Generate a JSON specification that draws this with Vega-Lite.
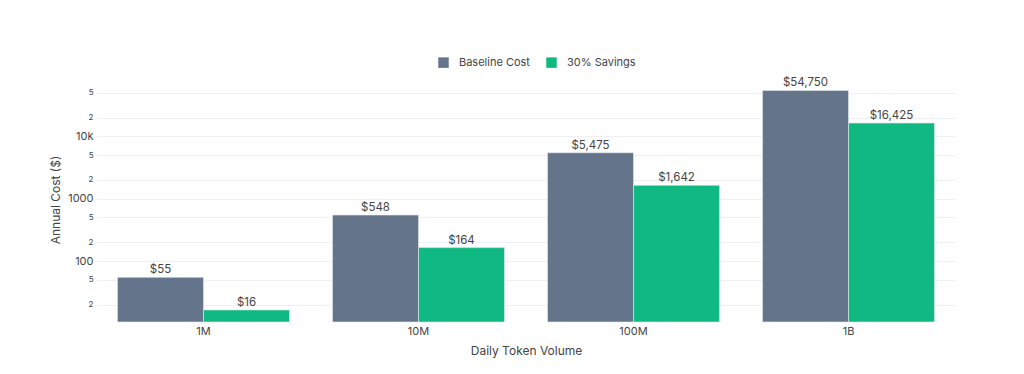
{
  "$schema": "https://vega.github.io/schema/vega-lite/v6.json",
  "width": 860,
  "height": 245,
  "autosize": {"type": "none"},
  "padding": {"left": 96, "top": 77, "right": 68, "bottom": 52},
  "background": "white",
  "config": {
    "font": "Inter",
    "view": {"stroke": null},
    "axis": {"labelColor": "#444", "titleColor": "#444", "titleFontWeight": "normal"}
  },
  "data": {
    "values": [
      {"volume": "1M", "series": "Baseline Cost", "cost": 54.75, "label": "$55"},
      {"volume": "1M", "series": "30% Savings", "cost": 16.425, "label": "$16"},
      {"volume": "10M", "series": "Baseline Cost", "cost": 547.5, "label": "$548"},
      {"volume": "10M", "series": "30% Savings", "cost": 164.25, "label": "$164"},
      {"volume": "100M", "series": "Baseline Cost", "cost": 5475, "label": "$5,475"},
      {"volume": "100M", "series": "30% Savings", "cost": 1642.5, "label": "$1,642"},
      {"volume": "1B", "series": "Baseline Cost", "cost": 54750, "label": "$54,750"},
      {"volume": "1B", "series": "30% Savings", "cost": 16425, "label": "$16,425"}
    ]
  },
  "encoding": {
    "x": {
      "field": "volume", "type": "nominal", "sort": ["1M", "10M", "100M", "1B"],
      "scale": {"paddingInner": 0.2, "paddingOuter": 0.1},
      "axis": {"title": "Daily Token Volume", "labelAngle": 0, "ticks": false, "domain": false,
               "labelFontSize": 11, "labelPadding": 3, "titleFontSize": 12, "titlePadding": 9}
    },
    "xOffset": {"field": "series", "type": "nominal", "sort": ["Baseline Cost", "30% Savings"]},
    "y": {
      "field": "cost", "type": "quantitative",
      "scale": {"type": "log", "domain": [10.5, 90000], "nice": false},
      "axis": {
        "title": "Annual Cost ($)", "titleFontSize": 12, "titlePadding": 5,
        "values": [20, 50, 100, 200, 500, 1000, 2000, 5000, 10000, 20000, 50000],
        "labelExpr": "datum.value == 10000 ? '10k' : (datum.value == 100 ? '100' : (datum.value == 1000 ? '1000' : (datum.value / pow(10, floor(log(datum.value) / LN10 + 1e-9)) < 3 ? '2' : '5')))",
        "labelFontSize": {"condition": {"test": "datum.value == 100 || datum.value == 1000 || datum.value == 10000", "value": 11}, "value": 8},
        "ticks": false, "domain": false, "labelPadding": 3,
        "gridColor": "#eef0f4", "gridWidth": 1
      }
    }
  },
  "layer": [
    {
      "mark": {"type": "bar", "stroke": "#e8eaee", "strokeWidth": 0.6},
      "encoding": {
        "y2": {"datum": 10.5},
        "color": {
          "field": "series", "type": "nominal",
          "scale": {"domain": ["Baseline Cost", "30% Savings"], "range": ["#64748b", "#10b981"]},
          "legend": {
            "title": null, "orient": "none", "direction": "horizontal",
            "legendX": 342, "legendY": -20,
            "symbolType": "square", "symbolSize": 110, "symbolStrokeWidth": 0,
            "labelFontSize": 11, "labelColor": "#444", "labelOffset": 10, "columnPadding": 16
          }
        }
      }
    },
    {
      "mark": {"type": "text", "baseline": "bottom", "dy": -2, "fontSize": 11.5, "color": "#444"},
      "encoding": {"text": {"field": "label"}}
    }
  ]
}
